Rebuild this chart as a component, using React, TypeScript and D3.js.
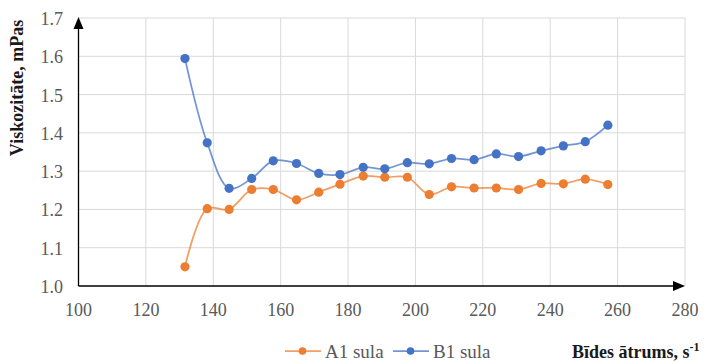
import React from "react";
import * as d3 from "d3";

const shearRate = [131.6, 138.2, 144.7, 151.4, 157.8, 164.7, 171.3, 177.6, 184.5, 190.9, 197.6, 204.1, 210.7, 217.4, 224.0, 230.6, 237.3, 243.9, 250.4, 257.1];
const a1Sula = [1.050, 1.202, 1.200, 1.252, 1.252, 1.225, 1.245, 1.266, 1.287, 1.284, 1.284, 1.239, 1.259, 1.256, 1.256, 1.252, 1.268, 1.267, 1.279, 1.265];
const b1Sula = [1.594, 1.374, 1.255, 1.281, 1.327, 1.320, 1.294, 1.291, 1.310, 1.306, 1.322, 1.319, 1.333, 1.330, 1.345, 1.338, 1.353, 1.366, 1.377, 1.420];
const xTicks = [100, 120, 140, 160, 180, 200, 220, 240, 260, 280];
const yTicks = [1.0, 1.1, 1.2, 1.3, 1.4, 1.5, 1.6, 1.7];
const seriesNames = ["A1 sula", "B1 sula"];
const seriesColors = ["#ED7D31", "#4472C4"];

export default function App() {
  const W = 706, H = 361;
  const x = d3.scaleLinear().domain([100, 280]).range([78.5, 685]);
  const y = d3.scaleLinear().domain([1.0, 1.7]).range([286, 18]);
  const font = "'Liberation Serif', 'Times New Roman', serif";
  const series = [a1Sula, b1Sula];
  const line = d3
    .line<[number, number]>()
    .x((d) => x(d[0]))
    .y((d) => y(d[1]))
    .curve(d3.curveCatmullRom.alpha(0.5));

  const x0 = x(100), y0 = y(1.0);
  const xEnd = x(280), yTop = y(1.7);

  return (
    <svg width={W} height={H} style={{ position: "absolute", left: 0, top: 0, background: "#fff" }} fontFamily={font}>
      {/* grid */}
      {yTicks.filter((t) => t > 1.0).map((t) => (
        <line key={"gy" + t} x1={x0} x2={xEnd} y1={y(t)} y2={y(t)} stroke="#d9d9d9" strokeWidth={1} />
      ))}
      {xTicks.filter((t) => t > 100).map((t) => (
        <line key={"gx" + t} x1={x(t)} x2={x(t)} y1={yTop} y2={y0} stroke="#d9d9d9" strokeWidth={1} />
      ))}
      {/* axes */}
      <line x1={x0} x2={xEnd - 8} y1={y0} y2={y0} stroke="#000" strokeWidth={1.3} />
      <path d={`M${xEnd},${y0} L${xEnd - 12},${y0 - 5} L${xEnd - 12},${y0 + 5} Z`} fill="#000" />
      <line x1={x0} x2={x0} y1={y0} y2={yTop + 8} stroke="#000" strokeWidth={1.3} />
      <path d={`M${x0},${yTop - 1} L${x0 - 5},${yTop + 11} L${x0 + 5},${yTop + 11} Z`} fill="#000" />
      {/* tick labels */}
      {yTicks.map((t) => (
        <text key={"ty" + t} x={63} y={y(t) + 1} textAnchor="end" dominantBaseline="central" fontSize={18} fill="#595959">
          {t.toFixed(1)}
        </text>
      ))}
      {xTicks.map((t) => (
        <text key={"tx" + t} x={x(t)} y={310} textAnchor="middle" dominantBaseline="central" fontSize={18} fill="#595959">
          {t}
        </text>
      ))}
      {/* series */}
      {series.map((s, i) => {
        const pts = shearRate.map((v, j) => [v, s[j]] as [number, number]);
        return (
          <g key={"s" + i}>
            <path d={line(pts) || ""} fill="none" stroke={seriesColors[i]} strokeWidth={1.75} strokeOpacity={0.75} />
            {pts.map((p, j) => (
              <circle key={j} cx={x(p[0])} cy={y(p[1])} r={4.6} fill={seriesColors[i]} />
            ))}
          </g>
        );
      })}
      {/* y title */}
      <text transform="translate(17,88) rotate(-90)" textAnchor="middle" dominantBaseline="central" fontSize={18} fontWeight="bold" fill="#1a1a1a">
        Viskozitāte, mPas
      </text>
      {/* x title */}
      <text x={572} y={358} fontSize={18} fontWeight="bold" fill="#1a1a1a">
        Bīdes ātrums, s<tspan dy={-7} fontSize={12}>-1</tspan>
      </text>
      {/* legend */}
      {seriesNames.map((n, i) => {
        const lx = i === 0 ? 285 : 393;
        return (
          <g key={"l" + i}>
            <line x1={lx} x2={lx + 36} y1={351} y2={351} stroke={seriesColors[i]} strokeWidth={1.75} strokeOpacity={0.75} />
            <circle cx={lx + 17.5} cy={351} r={3.8} fill={seriesColors[i]} />
            <text x={lx + 40} y={358} fontSize={19} fill="#595959">
              {n}
            </text>
          </g>
        );
      })}
    </svg>
  );
}
